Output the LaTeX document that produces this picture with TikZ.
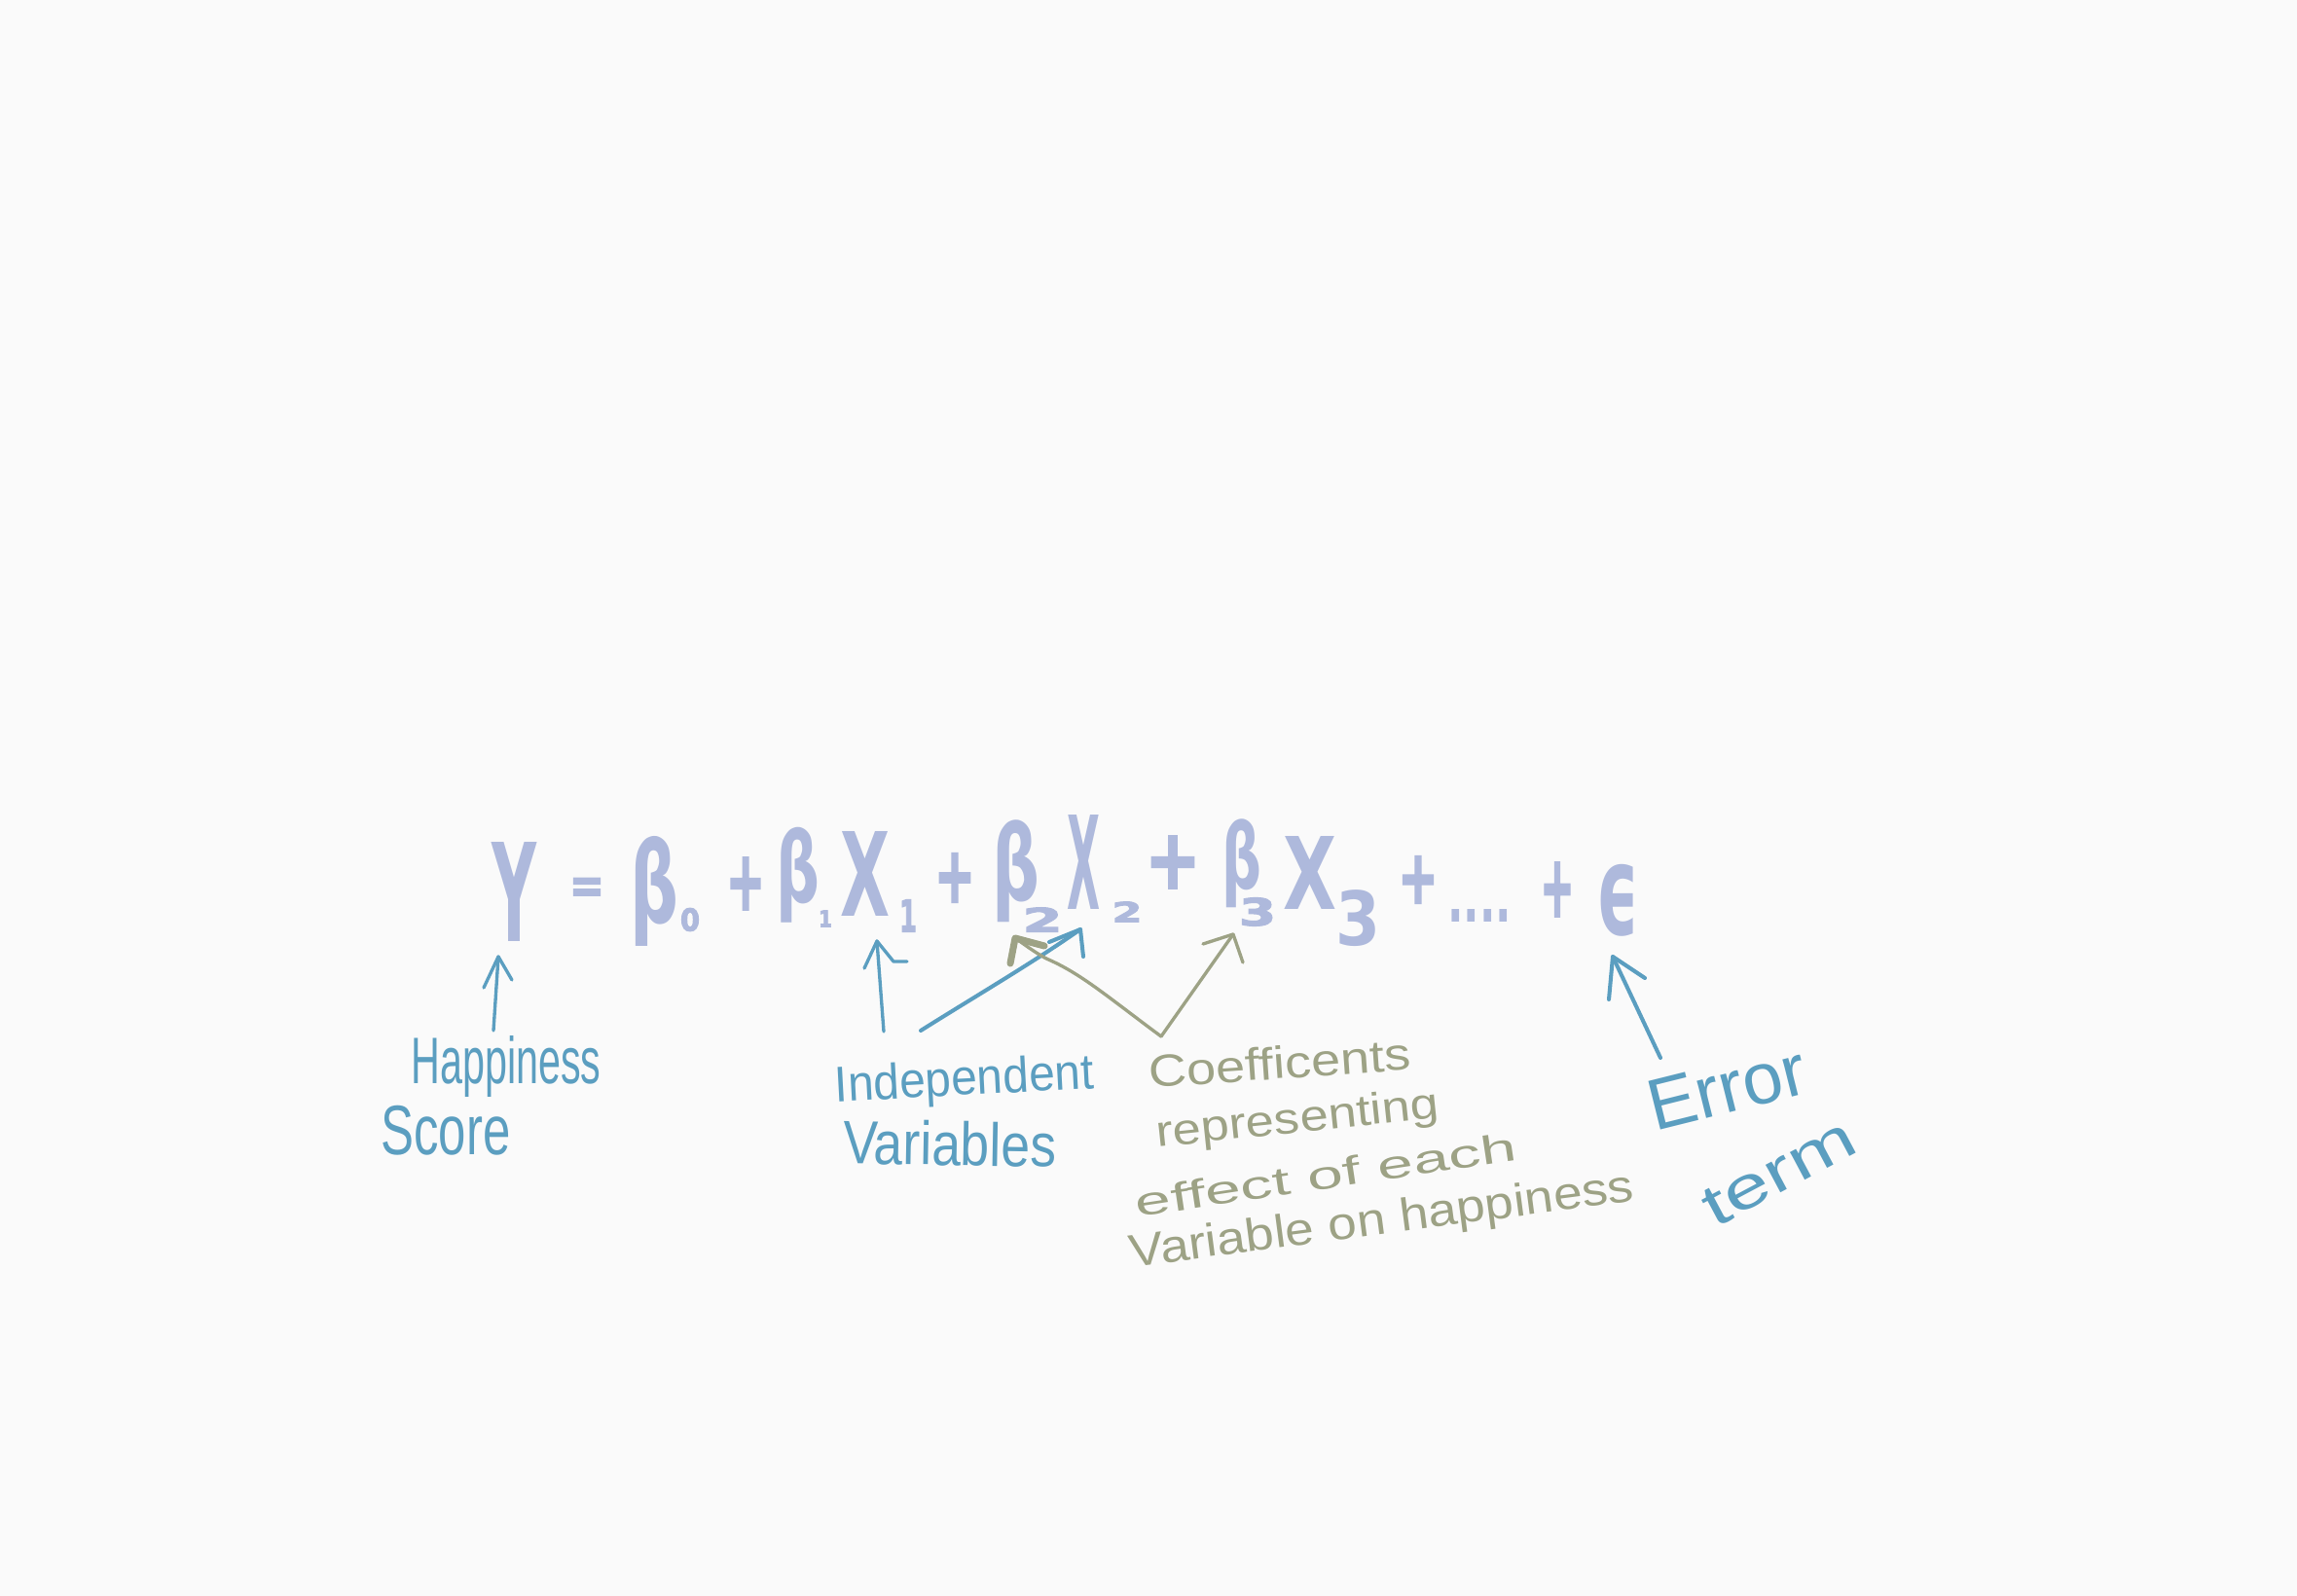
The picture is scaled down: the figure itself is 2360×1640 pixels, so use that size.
\documentclass[tikz,border=0pt]{standalone}
\usepackage{graphicx}
\usepackage{fontspec}
\setmainfont{Liberation Sans}
\newfontfamily\eqfont{DejaVu Sans}[BoldFont={DejaVu Sans Bold}]
\newfontfamily\eqheavy{DejaVu Sans Bold}[FakeBold=3]
\newlength\pxu
\setlength\pxu{0.01cm}
\newcommand{\fitbox}[3]{\resizebox*{#1\pxu}{#2\pxu}{#3}}
\definecolor{paper}{HTML}{FAFAFA}
\definecolor{eqc}{HTML}{AEB9DC}
\definecolor{bluec}{HTML}{5B9EC0}
\definecolor{olivec}{HTML}{9DA285}
\tikzset{
  eqtok/.style={inner sep=0pt,text=eqc,font=\eqfont\bfseries},
  eqthick/.style={inner sep=0pt,text=eqc,font=\eqheavy},
  bluetxt/.style={inner sep=0pt,text=bluec},
  olivetxt/.style={inner sep=0pt,text=olivec},
  bluepen/.style={draw=bluec,line width=0.95pt,line cap=round,line join=round},
  olivepen/.style={draw=olivec,line width=0.95pt,line cap=round,line join=round},
}
\begin{document}
\begin{tikzpicture}[x=0.01cm,y=-0.01cm]
\fill[paper] (0,0) rectangle (2360,1640);
\useasboundingbox (0,0) rectangle (2360,1640);
% equation
\node[eqtok] (y)   at (528,916) {\fitbox{46}{102}{Y}};
\node[eqthick] (eq)  at (603,915) {\fitbox{36}{25}{=}};
\node[eqtok] (b0)  at (672,916) {\fitbox{50}{113}{β}};
\node[eqthick] (s0)  at (709,945) {\fitbox{20}{24}{0}};
\node[eqthick] (p1)  at (766,908) {\fitbox{40}{53}{+}};
\node[eqtok] (b1)  at (820,899) {\fitbox{45}{98}{β}};
\node[eqthick] (s1)  at (848,944) {\fitbox{14}{17}{1}};
\node[eqtok] (x1)  at (889,898) {\fitbox{51}{87}{X}};
\node[eqthick] (s1b) at (933,941) {\fitbox{18}{33}{1}};
\node[eqthick] (p2)  at (981,902) {\fitbox{42}{50}{+}};
\node[eqtok] (b2)  at (1044,895) {\fitbox{49}{105}{β}};
\node[eqthick] (s2)  at (1071,945) {\fitbox{41}{25}{2}};
\node[eqtok] (x2)  at (1113,886) {\fitbox{34}{97}{X}};
\node[eqthick] (s2b) at (1158,937) {\fitbox{31}{21}{2}};
\node[eqthick] (p3)  at (1205,886) {\fitbox{57}{53}{+}};
\node[eqtok] (b3)  at (1276,887) {\fitbox{41}{91}{β}};
\node[eqthick] (s3)  at (1292,937) {\fitbox{38}{29}{3}};
\node[eqtok] (x3)  at (1346,897) {\fitbox{55}{75}{X}};
\node[eqtok] (s3b) at (1395,944) {\fitbox{46}{58}{3}};
\node[eqthick] (p4)  at (1457,904) {\fitbox{41}{48}{+}};
\node[eqtok] (dots) at (1520,941) {\fitbox{66}{13}{....}};
\node[eqthick] (p5)  at (1600,914) {\fitbox{35}{55}{+}};
\node[eqtok] (eps) at (1662,925) {\fitbox{44}{74}{ϵ}};
% labels
\node[bluetxt] (happy) at (520,1096) {\fitbox{195}{63}{Happiness}};
\node[bluetxt] (score) at (458,1162) {\fitbox{133}{51}{Score}};
\node[bluetxt,rotate=3] (indep) at (991,1112) {\fitbox{266}{48}{Independent}};
\node[bluetxt,rotate=-1] (vars) at (976,1175) {\fitbox{219}{46}{Variables}};
\node[olivetxt,rotate=4] (coef) at (1315,1092) {\fitbox{270}{34}{Coefficents}};
\node[olivetxt,rotate=6] (repr) at (1333,1152) {\fitbox{292}{42}{representing}};
\node[olivetxt,rotate=8.5] (effect) at (1362,1207) {\fitbox{395}{30}{effect of each}};
\node[olivetxt,rotate=7.5] (varon) at (1420,1256) {\fitbox{522}{44}{Variable on happiness}};
\node[bluetxt,rotate=14] (err) at (1774,1118) {\fitbox{165}{52}{Error}};
\node[bluetxt,rotate=28] (term) at (1828,1205) {\fitbox{170}{40}{term}};
% connector ends
\coordinate (tailY) at (507,1059);
\coordinate (tipY) at (512,983);
\coordinate (tailX) at (908,1060);
\coordinate (tipX) at (901,967);
\coordinate (tailXb) at (946,1059);
\coordinate (tipXb) at (1110,955);
\coordinate (apex) at (1193,1065);
\coordinate (tipBc) at (1267,960);
\coordinate (tipBb) at (1043,964);
\coordinate (tailE) at (1706,1087);
\coordinate (tipE) at (1657,983);
% blue arrows
\draw[bluepen] (tailY) -- (tipY);
\draw[bluepen] (497,1015) -- (tipY) -- (526,1007);
\draw[bluepen] (tailX) -- (tipX);
\draw[bluepen] (888,995) -- (tipX) -- (918,988) -- (932,988);
\draw[bluepen,line width=1.15pt] (tailXb) .. controls (1000,1025) and (1060,990) .. (tipXb);
\draw[bluepen,line width=1.15pt] (1078,968) -- (tipXb) -- (1113,983);
\draw[bluepen,line width=1.15pt] (tailE) -- (tipE);
\draw[bluepen,line width=1.15pt] (1653,1027) -- (tipE) -- (1690,1005);
% olive arrows
\draw[olivepen] (apex) -- (tipBc);
\draw[olivepen] (1236,970) -- (tipBc) -- (1277,989);
\draw[olivepen] (apex) .. controls (1135,1022) and (1110,1000) .. (1075,985) .. controls (1062,978) and (1052,970) .. (tipBb);
\draw[olivepen,line width=2pt] (1038,990) -- (tipBb) -- (1073,972);
\end{tikzpicture}
\end{document}
